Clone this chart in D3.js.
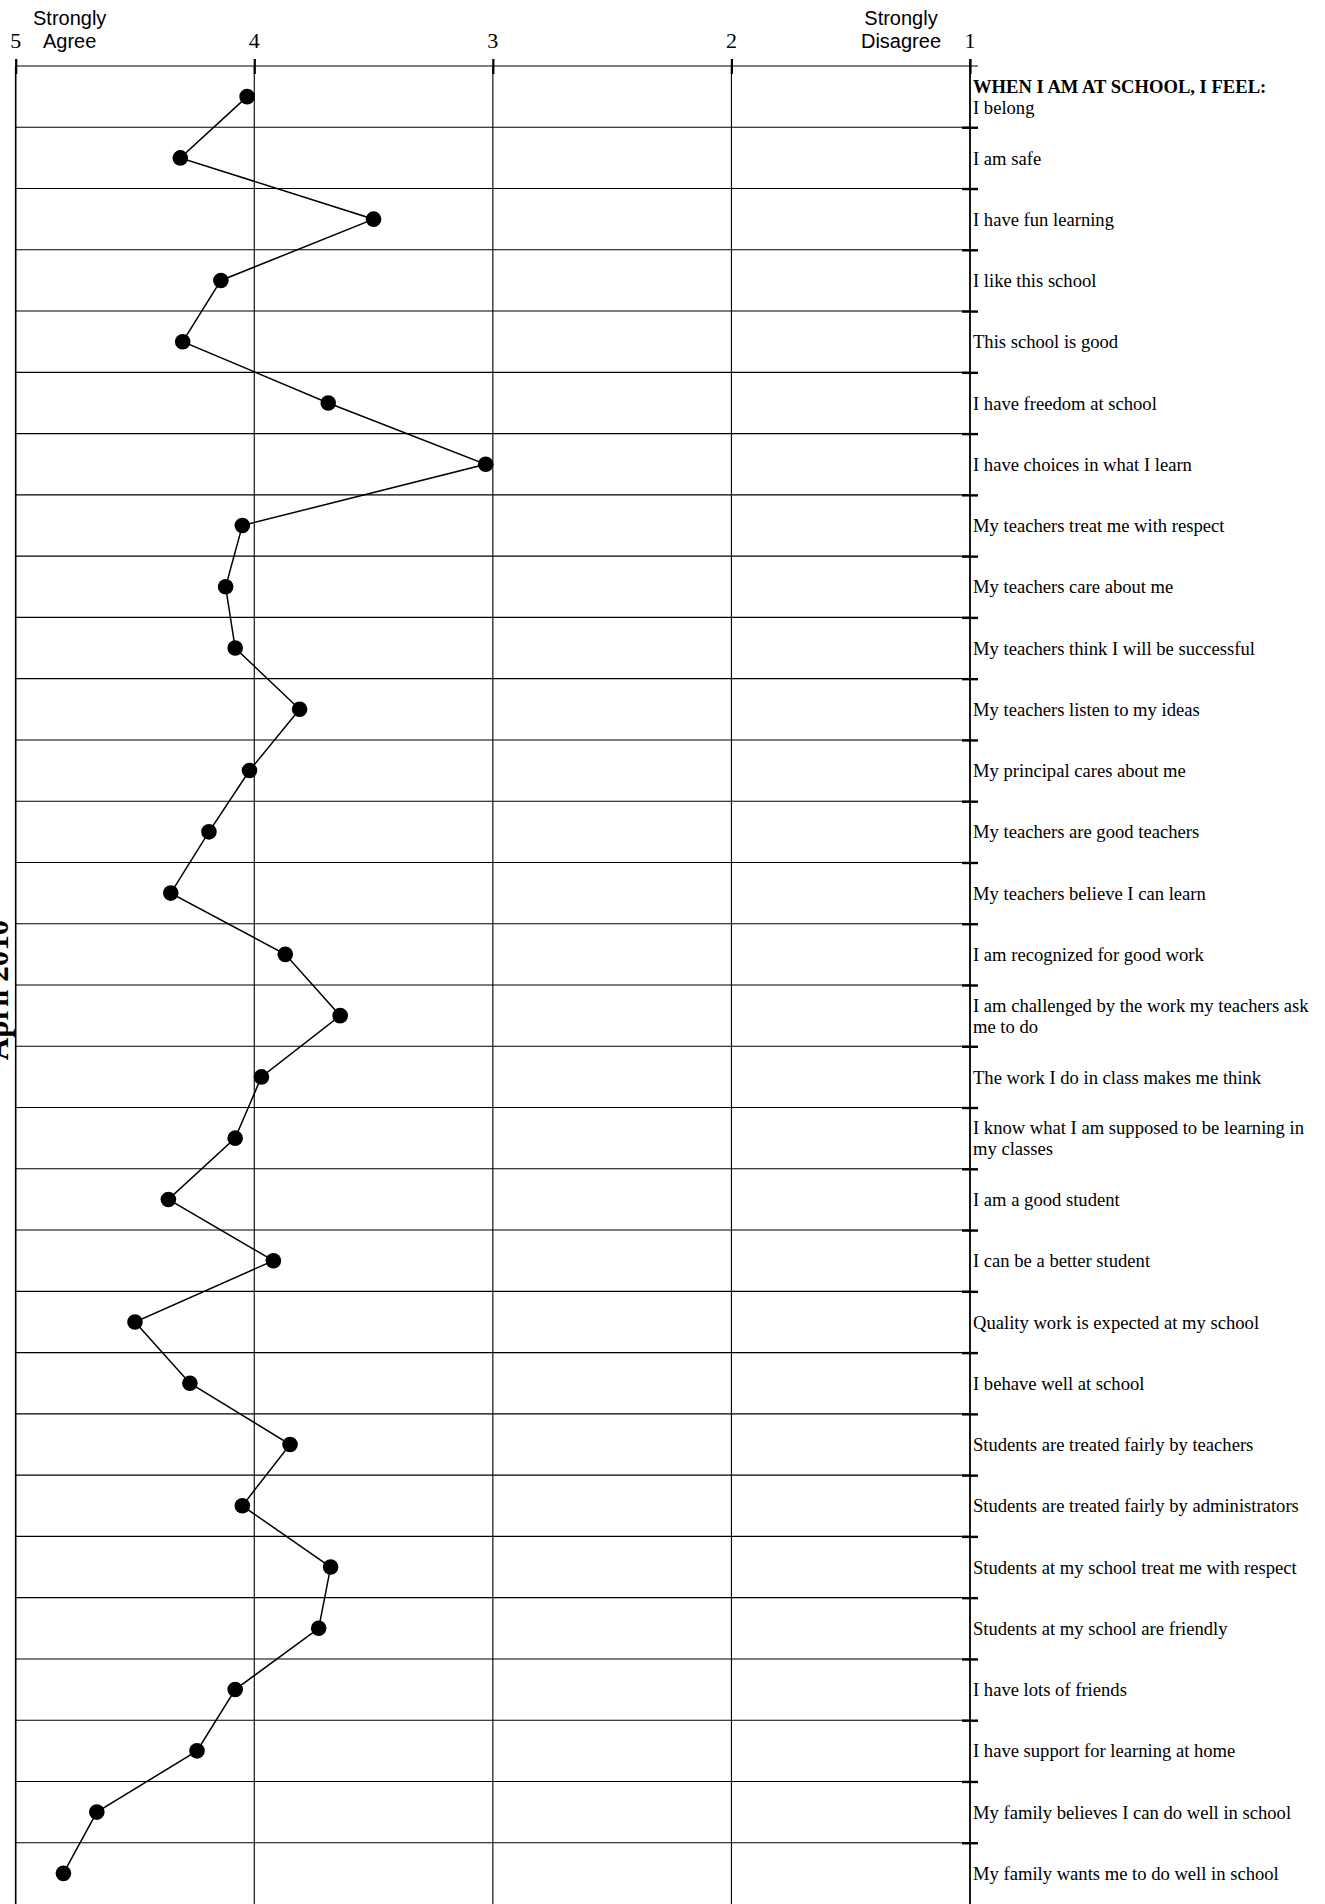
<!DOCTYPE html>
<html>
<head>
<meta charset="utf-8">
<script src="https://cdn.jsdelivr.net/npm/d3@7/dist/d3.min.js"></script>
<style>
	body { margin: 0; background: #fff; }
	svg { display: block; }
</style>
</head>
<body>
<svg id="chart" width="1325" height="1904"></svg>
<script>
// survey statements, top to bottom
var items = [
	'I belong',
	'I am safe',
	'I have fun learning',
	'I like this school',
	'This school is good',
	'I have freedom at school',
	'I have choices in what I learn',
	'My teachers treat me with respect',
	'My teachers care about me',
	'My teachers think I will be successful',
	'My teachers listen to my ideas',
	'My principal cares about me',
	'My teachers are good teachers',
	'My teachers believe I can learn',
	'I am recognized for good work',
	'I am challenged by the work my teachers ask me to do',
	'The work I do in class makes me think',
	'I know what I am supposed to be learning in my classes',
	'I am a good student',
	'I can be a better student',
	'Quality work is expected at my school',
	'I behave well at school',
	'Students are treated fairly by teachers',
	'Students are treated fairly by administrators',
	'Students at my school treat me with respect',
	'Students at my school are friendly',
	'I have lots of friends',
	'I have support for learning at home',
	'My family believes I can do well in school',
	'My family wants me to do well in school'
];

// mean response (5 = strongly agree, 1 = strongly disagree)
var scores = [
	4.03, 4.31, 3.50, 4.14, 4.30, 3.69, 3.03, 4.05, 4.12, 4.08,
	3.81, 4.02, 4.19, 4.35, 3.87, 3.64, 3.97, 4.08, 4.36, 3.92,
	4.50, 4.27, 3.85, 4.05, 3.68, 3.73, 4.08, 4.24, 4.66, 4.80
];

var ticks = [5, 4, 3, 2, 1];
var agreeLabel = ['Strongly', 'Agree'];
var disagreeLabel = ['Strongly', 'Disagree'];
var header = 'WHEN I AM AT SCHOOL, I FEEL:';
var surveyDate = 'April 2010';

var W = 1325, H = 1904;
var plotTop = 66;
var serif = 'Liberation Serif, Times New Roman, serif';
var svg = d3.select('#chart');

var x = d3.scaleLinear().domain([5, 1]).range([15.7, 970]);
var y = d3.scaleBand().domain(d3.range(items.length)).range([plotTop, H]);
var yEdge = d3.scaleLinear().domain([0, items.length]).range([plotTop, H]);
var bw = y.bandwidth();

// vertical grid
svg.append('g')
	.selectAll('line')
	.data(ticks)
	.enter().append('line')
	.attr('x1', d => x(d)).attr('x2', d => x(d))
	.attr('y1', plotTop).attr('y2', H)
	.attr('stroke', '#000')
	.attr('stroke-width', d => (d == 5 ? 1.6 : 1.1));

// row separators
svg.append('g')
	.selectAll('line')
	.data(d3.range(1, items.length))
	.enter().append('line')
	.attr('x1', x(5)).attr('x2', x(1))
	.attr('y1', d => yEdge(d)).attr('y2', d => yEdge(d))
	.attr('stroke', '#000')
	.attr('stroke-width', 1.1);

// top axis: ticks from d3, labels drawn as own text
var xAxis = d3.axisTop(x)
	.tickValues(ticks)
	.tickFormat('')
	.tickSizeOuter(0);

svg.append('g')
	.attr('transform', 'translate(0,' + plotTop + ')')
	.call(xAxis)
	.call(g => g.select('.domain').remove())
	.call(g => g.selectAll('.tick line')
		.attr('y1', 8).attr('y2', -7)
		.attr('stroke', '#000').attr('stroke-width', 2.2));

svg.append('g')
	.selectAll('text')
	.data(ticks)
	.enter().append('text')
	.attr('x', d => x(d))
	.attr('y', plotTop - 18)
	.attr('text-anchor', 'middle')
	.attr('fill', '#000')
	.style('font-family', serif)
	.style('font-size', '22px')
	.text(d => d);

svg.append('line')
	.attr('x1', x(5)).attr('x2', x(1) + 8)
	.attr('y1', plotTop).attr('y2', plotTop)
	.attr('stroke', '#000').attr('stroke-width', 1.2);

// right axis with row ticks
var yAxis = d3.axisRight(yEdge)
	.tickValues(d3.range(1, items.length))
	.tickFormat('')
	.tickSizeOuter(0);

svg.append('g')
	.attr('transform', 'translate(' + x(1) + ',0)')
	.call(yAxis)
	.call(g => g.select('.domain').remove())
	.call(g => g.selectAll('.tick line')
		.attr('x1', -8).attr('x2', 8)
		.attr('stroke', '#000').attr('stroke-width', 2.4));

svg.append('line')
	.attr('x1', x(1)).attr('x2', x(1))
	.attr('y1', plotTop - 7).attr('y2', H)
	.attr('stroke', '#000').attr('stroke-width', 1.6);

// end labels
function endLabel(lines, cx) {
	var t = svg.append('text')
		.attr('text-anchor', 'middle')
		.style('font-family', 'Liberation Sans, Arial, sans-serif')
		.style('font-size', '20px');
	lines.forEach(function(s, i) {
		t.append('tspan').attr('x', cx).attr('y', 25 + i * 23).text(s);
	});
}
endLabel(agreeLabel, x(5) + 54);
endLabel(disagreeLabel, x(1) - 69);

// data line and dots
var line = d3.line()
	.x(d => x(d))
	.y((d, i) => y(i) + bw / 2);

svg.append('path')
	.datum(scores)
	.attr('d', line)
	.attr('fill', 'none')
	.attr('stroke', '#000')
	.attr('stroke-width', 1.5);

svg.append('g')
	.selectAll('circle')
	.data(scores)
	.enter().append('circle')
	.attr('cx', d => x(d))
	.attr('cy', (d, i) => y(i) + bw / 2)
	.attr('r', 7.8)
	.attr('fill', '#000');

// statement labels, wrapped to the space right of the axis
var labelX = x(1) + 3;
var maxW = W - labelX - 2;
var lh = 21;
var fs = 18.6;

var measure = svg.append('text')
	.style('font-family', serif)
	.style('font-size', fs + 'px');

function wrap(s) {
	var words = s.split(' '), out = [], cur = '';
	words.forEach(function(w) {
		var test = cur ? cur + ' ' + w : w;
		measure.text(test);
		if (cur && measure.node().getComputedTextLength() > maxW) {
			out.push(cur);
			cur = w;
		} else {
			cur = test;
		}
	});
	out.push(cur);
	return out;
}

items.forEach(function(s, i) {
	var lines = wrap(s).map(t => ({ t: t, bold: false }));
	if (i == 0) lines.unshift({ t: header, bold: true });
	var cy = y(i) + bw / 2;
	var t = svg.append('text')
		.style('font-family', serif)
		.style('font-size', fs + 'px')
		.attr('fill', '#000');
	lines.forEach(function(l, k) {
		t.append('tspan')
			.attr('x', labelX)
			.attr('y', cy + (k - (lines.length - 1) / 2) * lh + 6.6)
			.style('font-weight', l.bold ? 'bold' : 'normal')
			.text(l.t);
	});
});
measure.remove();

// survey date, rotated on the left edge
svg.append('text')
	.attr('transform', 'translate(8,990) rotate(-90)')
	.attr('text-anchor', 'middle')
	.style('font-family', serif)
	.style('font-size', '31px')
	.style('font-weight', 'bold')
	.text(surveyDate);
</script>
</body>
</html>
